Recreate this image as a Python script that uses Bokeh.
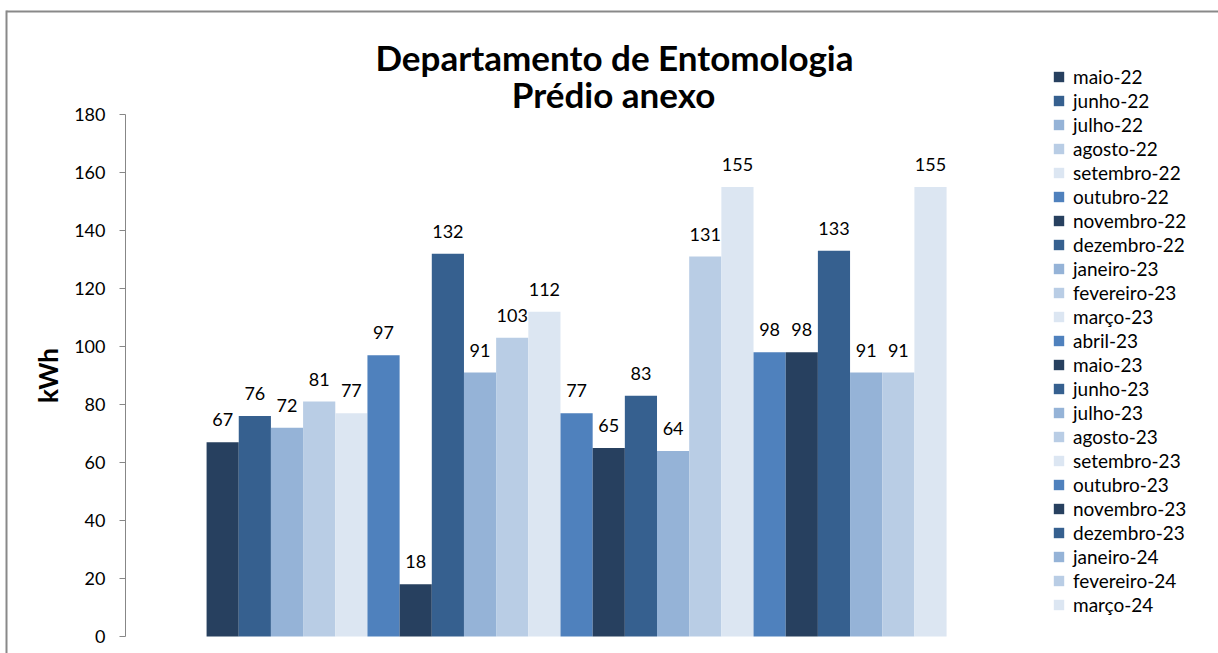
import math
from bokeh.plotting import figure
from bokeh.models import (ColumnDataSource, Range1d, FixedTicker, Legend, LegendItem,
                          LabelSet, Label)
from bokeh.core.properties import value
from bokeh.embed import file_html
from bokeh.resources import INLINE

months = ["maio-22", "junho-22", "julho-22", "agosto-22", "setembro-22", "outubro-22",
          "novembro-22", "dezembro-22", "janeiro-23", "fevereiro-23", "março-23", "abril-23",
          "maio-23", "junho-23", "julho-23", "agosto-23", "setembro-23", "outubro-23",
          "novembro-23", "dezembro-23", "janeiro-24", "fevereiro-24", "março-24"]
kwh = [67, 76, 72, 81, 77, 97, 18, 132, 91, 103, 112, 77, 65, 83, 64, 131, 155, 98, 98,
       133, 91, 91, 155]
palette = ["#27405F", "#36608F", "#95B3D7", "#B9CDE5", "#DCE6F2", "#4F81BD"]
y_ticks = [0, 20, 40, 60, 80, 100, 120, 140, 160, 180]
title_lines = ["Departamento de Entomologia", "Prédio anexo"]
y_label = "kWh"

FONT = "Lato"
W, H = 1218, 653
AXIS_PX, ZERO_PX = 125, 636      # page position of the y axis and of y = 0
BAR_PX, UNIT_PX = 32.174, 2.9    # pixels per bar slot and per kWh
X0 = -2.52                       # data x at the y axis


def px2x(px):
    return X0 + (px - AXIS_PX) / BAR_PX


def py2y(py):
    return (ZERO_PX - py) / UNIT_PX


xs = [i + 0.5 for i in range(len(kwh))]
colors = [palette[i % len(palette)] for i in range(len(kwh))]
labels = [str(v) for v in kwh]
src = ColumnDataSource(dict(x=xs, top=kwh, color=colors, label=labels, month=months))

p = figure(width=W, height=H, output_backend="svg", toolbar_location=None,
           x_range=Range1d(px2x(0), px2x(W)), y_range=Range1d(py2y(H), py2y(0)),
           min_border=0)
p.outline_line_color = None
p.xgrid.visible = False
p.ygrid.visible = False
p.xaxis.visible = False

# chart area border (only its top and left edges are inside the window)
p.multi_line(xs=[[px2x(6), px2x(W + 50)], [px2x(6), px2x(6)]],
             ys=[[py2y(11), py2y(11)], [py2y(10), py2y(H + 50)]],
             line_color="#898989", line_width=2)

renderers = []
for i in range(len(kwh)):
    r = p.vbar(x=xs[i], top=kwh[i], bottom=0, width=1.0, fill_color=colors[i],
               line_color=None)
    renderers.append(r)

ax = p.yaxis[0]
ax.fixed_location = X0
ax.bounds = (0, 180)
ax.ticker = FixedTicker(ticks=y_ticks)
ax.axis_line_color = "#878787"
ax.major_tick_line_color = "#878787"
ax.major_tick_out = 6
ax.major_tick_in = 0
ax.minor_tick_line_color = None
ax.major_label_text_font = FONT
ax.major_label_text_font_size = "18px"
ax.major_label_text_color = "#000000"
ax.major_label_standoff = 14

p.add_layout(Label(x=px2x(47), y=py2y(375), text=y_label, angle=math.pi / 2,
                   text_align="center", text_baseline="middle", text_font=FONT,
                   text_font_style="bold", text_font_size="26px", text_color="#000000"))

ls = LabelSet(x="x", y="top", text="label", source=src, text_align="center",
              text_baseline="alphabetic", y_offset=16, text_font=value(FONT),
              text_font_size="18px", text_color="#000000")
p.add_layout(ls)

p.add_layout(Label(x=px2x(614), y=py2y(56), text=title_lines[0], text_align="center",
                   text_baseline="alphabetic", text_font=FONT,
                   text_font_style="bold", text_font_size="35px", text_color="#000000"))
p.add_layout(Label(x=px2x(613), y=py2y(93), text=title_lines[1], text_align="center",
                   text_baseline="alphabetic", text_font=FONT,
                   text_font_style="bold", text_font_size="35px", text_color="#000000"))

items = [LegendItem(label=months[i], renderers=[renderers[i]]) for i in range(len(kwh))]
legend = Legend(items=items, location=(1052, H - 616), padding=0, margin=0,
                border_line_color=None, background_fill_alpha=0,
                glyph_width=13, glyph_height=13, label_height=24, spacing=0,
                label_standoff=8, label_text_font=FONT, label_text_font_size="19px",
                label_text_color="#000000")
p.add_layout(legend)

open("out.html", "w").write(file_html(p, INLINE))
